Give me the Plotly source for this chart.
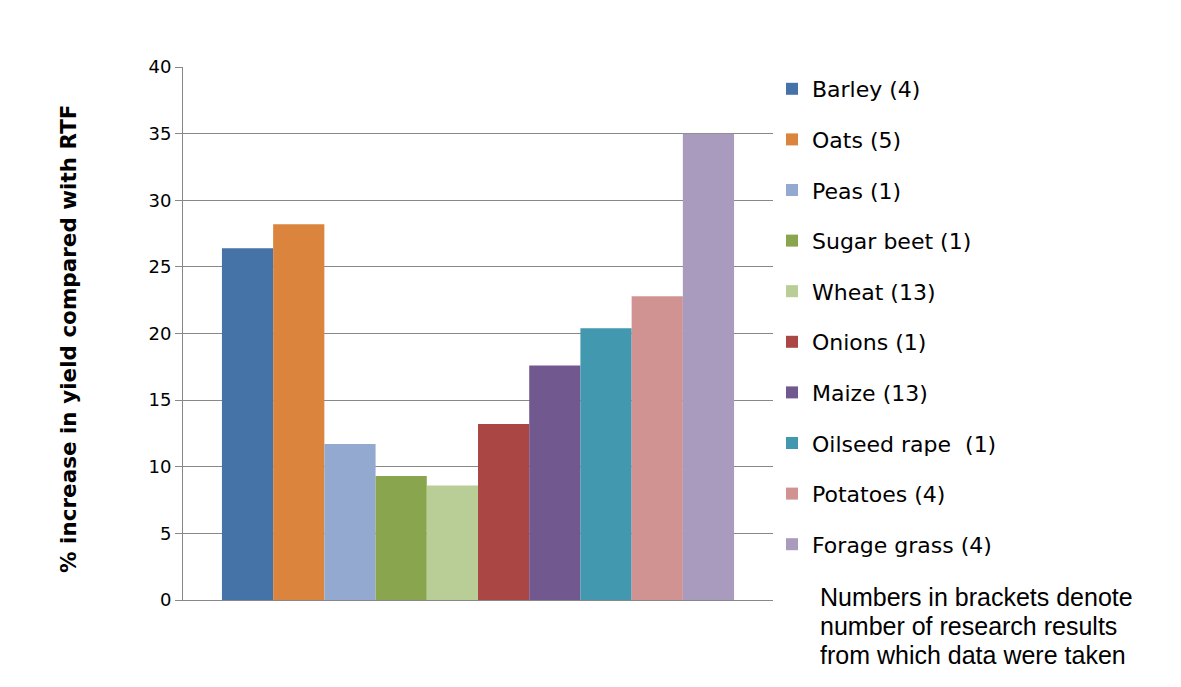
import plotly.graph_objects as go

# crops and their % yield increase over RTF (number of research results in brackets)
crops = ["Barley (4)", "Oats (5)", "Peas (1)", "Sugar beet (1)", "Wheat (13)",
         "Onions (1)", "Maize (13)", "Oilseed rape  (1)", "Potatoes (4)", "Forage grass (4)"]
increase = [26.4, 28.2, 11.7, 9.3, 8.6, 13.2, 17.6, 20.4, 22.8, 35.0]
colors = ["#4572A7", "#DB843D", "#93A9CF", "#89A54E", "#B9CD96",
          "#AA4643", "#71588F", "#4198AF", "#D09392", "#A99BBD"]
y_ticks = [0, 5, 10, 15, 20, 25, 30, 35, 40]
note_lines = ["Numbers in brackets denote", "number of research results",
              "from which data were taken"]

# page body has an 8px margin, so work in screen pixels and shift
OFF = 8
W, H = 1181 - OFF, 687 - OFF
L, R, T, B = 183 - OFF, 773 - OFF, 67 - OFF, 600 - OFF


def px(x):
    return (x - OFF - L) / (R - L)


def py(y):
    return (B - (y - OFF)) / (B - T)


FONT = "DejaVu Sans, sans-serif"

fig = go.Figure()
for i, (name, val, col) in enumerate(zip(crops, increase, colors)):
    fig.add_trace(go.Bar(
        x=[""], y=[val], name=name,
        marker=dict(color=col, line=dict(width=0)),
        legendgroup=f"g{i}",
    ))

fig.update_layout(
    width=W, height=H,
    margin=dict(l=L, r=W - R, t=T, b=H - B, autoexpand=False),
    paper_bgcolor="white", plot_bgcolor="white",
    barmode="group", bargap=0.132, bargroupgap=0,
    font=dict(family=FONT, color="black"),
    legend=dict(
        x=px(772), y=py(68),
        xanchor="left", yanchor="top",
        font=dict(size=22, family=FONT),
        tracegroupgap=19, itemwidth=30,
        maxheight=640,
        bgcolor="rgba(0,0,0,0)",
    ),
    showlegend=True,
)

fig.update_xaxes(showticklabels=False, showgrid=False, zeroline=False,
                 showline=True, linecolor="#888888", linewidth=1)
fig.update_yaxes(range=[0, 40], tickvals=y_ticks, showgrid=True,
                 gridcolor="#888888", gridwidth=1, zeroline=False,
                 showline=True, linecolor="#888888", linewidth=1,
                 ticks="outside", ticklen=7, tickcolor="#888888",
                 tickfont=dict(size=18, family=FONT))

fig.add_annotation(
    text="<b>% increase in yield compared with RTF</b>",
    xref="paper", yref="paper",
    x=px(68), y=py(339), textangle=-90,
    xanchor="center", yanchor="middle", showarrow=False,
    font=dict(size=21.5, family=FONT),
)

for k, line in enumerate(note_lines):
    fig.add_annotation(
        text=line, xref="paper", yref="paper",
        x=px(818), y=py(581 + 29.2 * k),
        xanchor="left", yanchor="top", align="left", showarrow=False,
        font=dict(size=25, family="Liberation Sans, Arial, sans-serif"),
    )

fig.write_html("out.html")
